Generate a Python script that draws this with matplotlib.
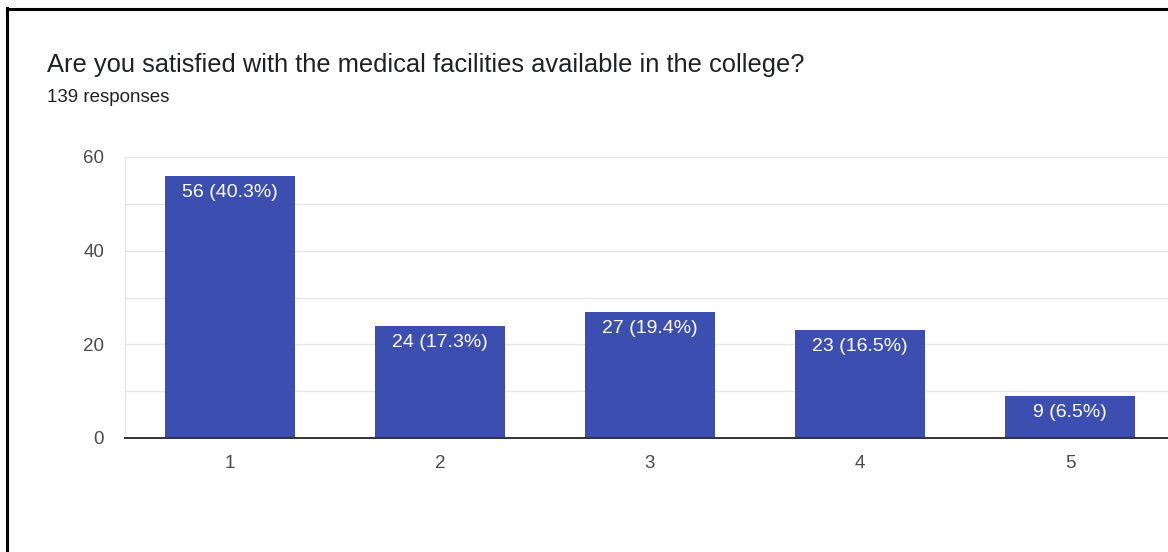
import matplotlib
matplotlib.use("Agg")
import matplotlib.pyplot as plt
from matplotlib.lines import Line2D

plt.rcParams["font.family"] = ["Liberation Sans", "DejaVu Sans"]

BAR = "#3c4fb1"
GRID = "#e6e6e6"
TEXT = "#202124"
TICK = "#4a4a4a"

categories = ["1", "2", "3", "4", "5"]
counts = [56, 24, 27, 23, 9]
total = 139
title = "Are you satisfied with the medical facilities available in the college?"

W, H = 1168, 552
fig = plt.figure(figsize=(W / 100, H / 100), dpi=100)
fig.patch.set_facecolor("white")

# plot area runs off the right edge of the card
ax = fig.add_axes([125 / W, (H - 438) / H, 1050 / W, (438 - 157) / H])
ax.set_facecolor("white")

xs = list(range(1, len(categories) + 1))
bars = ax.bar(xs, counts, width=0.62, color=BAR, zorder=3)

for b, v in zip(bars, counts):
    pct = 100 * v / total
    ax.annotate(
        f"{v} ({pct:.1f}%)",
        (b.get_x() + b.get_width() / 2, b.get_height()),
        xytext=(0, -12),
        textcoords="offset points",
        ha="center",
        va="center",
        color="white",
        fontsize=14,
        zorder=4,
    )

ax.set_xlim(0.5, 5.5)
ax.set_ylim(0, 60)
ax.set_xticks(xs, categories)
ax.set_yticks([0, 20, 40, 60])
ax.set_yticks([10, 30, 50], minor=True)
ax.grid(axis="y", which="both", color=GRID, linewidth=1, zorder=0)
ax.tick_params(axis="both", which="both", length=0, colors=TICK, labelsize=13.5)
ax.tick_params(axis="y", pad=15)
ax.tick_params(axis="x", pad=12.5)

for side in ("top", "right"):
    ax.spines[side].set_visible(False)
ax.spines["left"].set_color(GRID)
ax.spines["left"].set_linewidth(1)
ax.spines["bottom"].set_color("#333333")
ax.spines["bottom"].set_linewidth(1.4)
ax.spines["bottom"].set_zorder(5)

fig.text(47 / W, 1 - 65 / H, title, color=TEXT, fontsize=18.4, ha="left", va="center")
fig.text(47 / W, 1 - 97 / H, f"{total} responses", color=TEXT, fontsize=13.5, ha="left", va="center")

# card border, top and left edges
fig.add_artist(Line2D([7 / W, 7 / W], [0, 1 - 8 / H], color="black", linewidth=2.2, transform=fig.transFigure))
fig.add_artist(Line2D([7 / W, 1], [1 - 8.8 / H, 1 - 8.8 / H], color="black", linewidth=2.2, transform=fig.transFigure))

fig.savefig("out.png", dpi=100, facecolor="white")
